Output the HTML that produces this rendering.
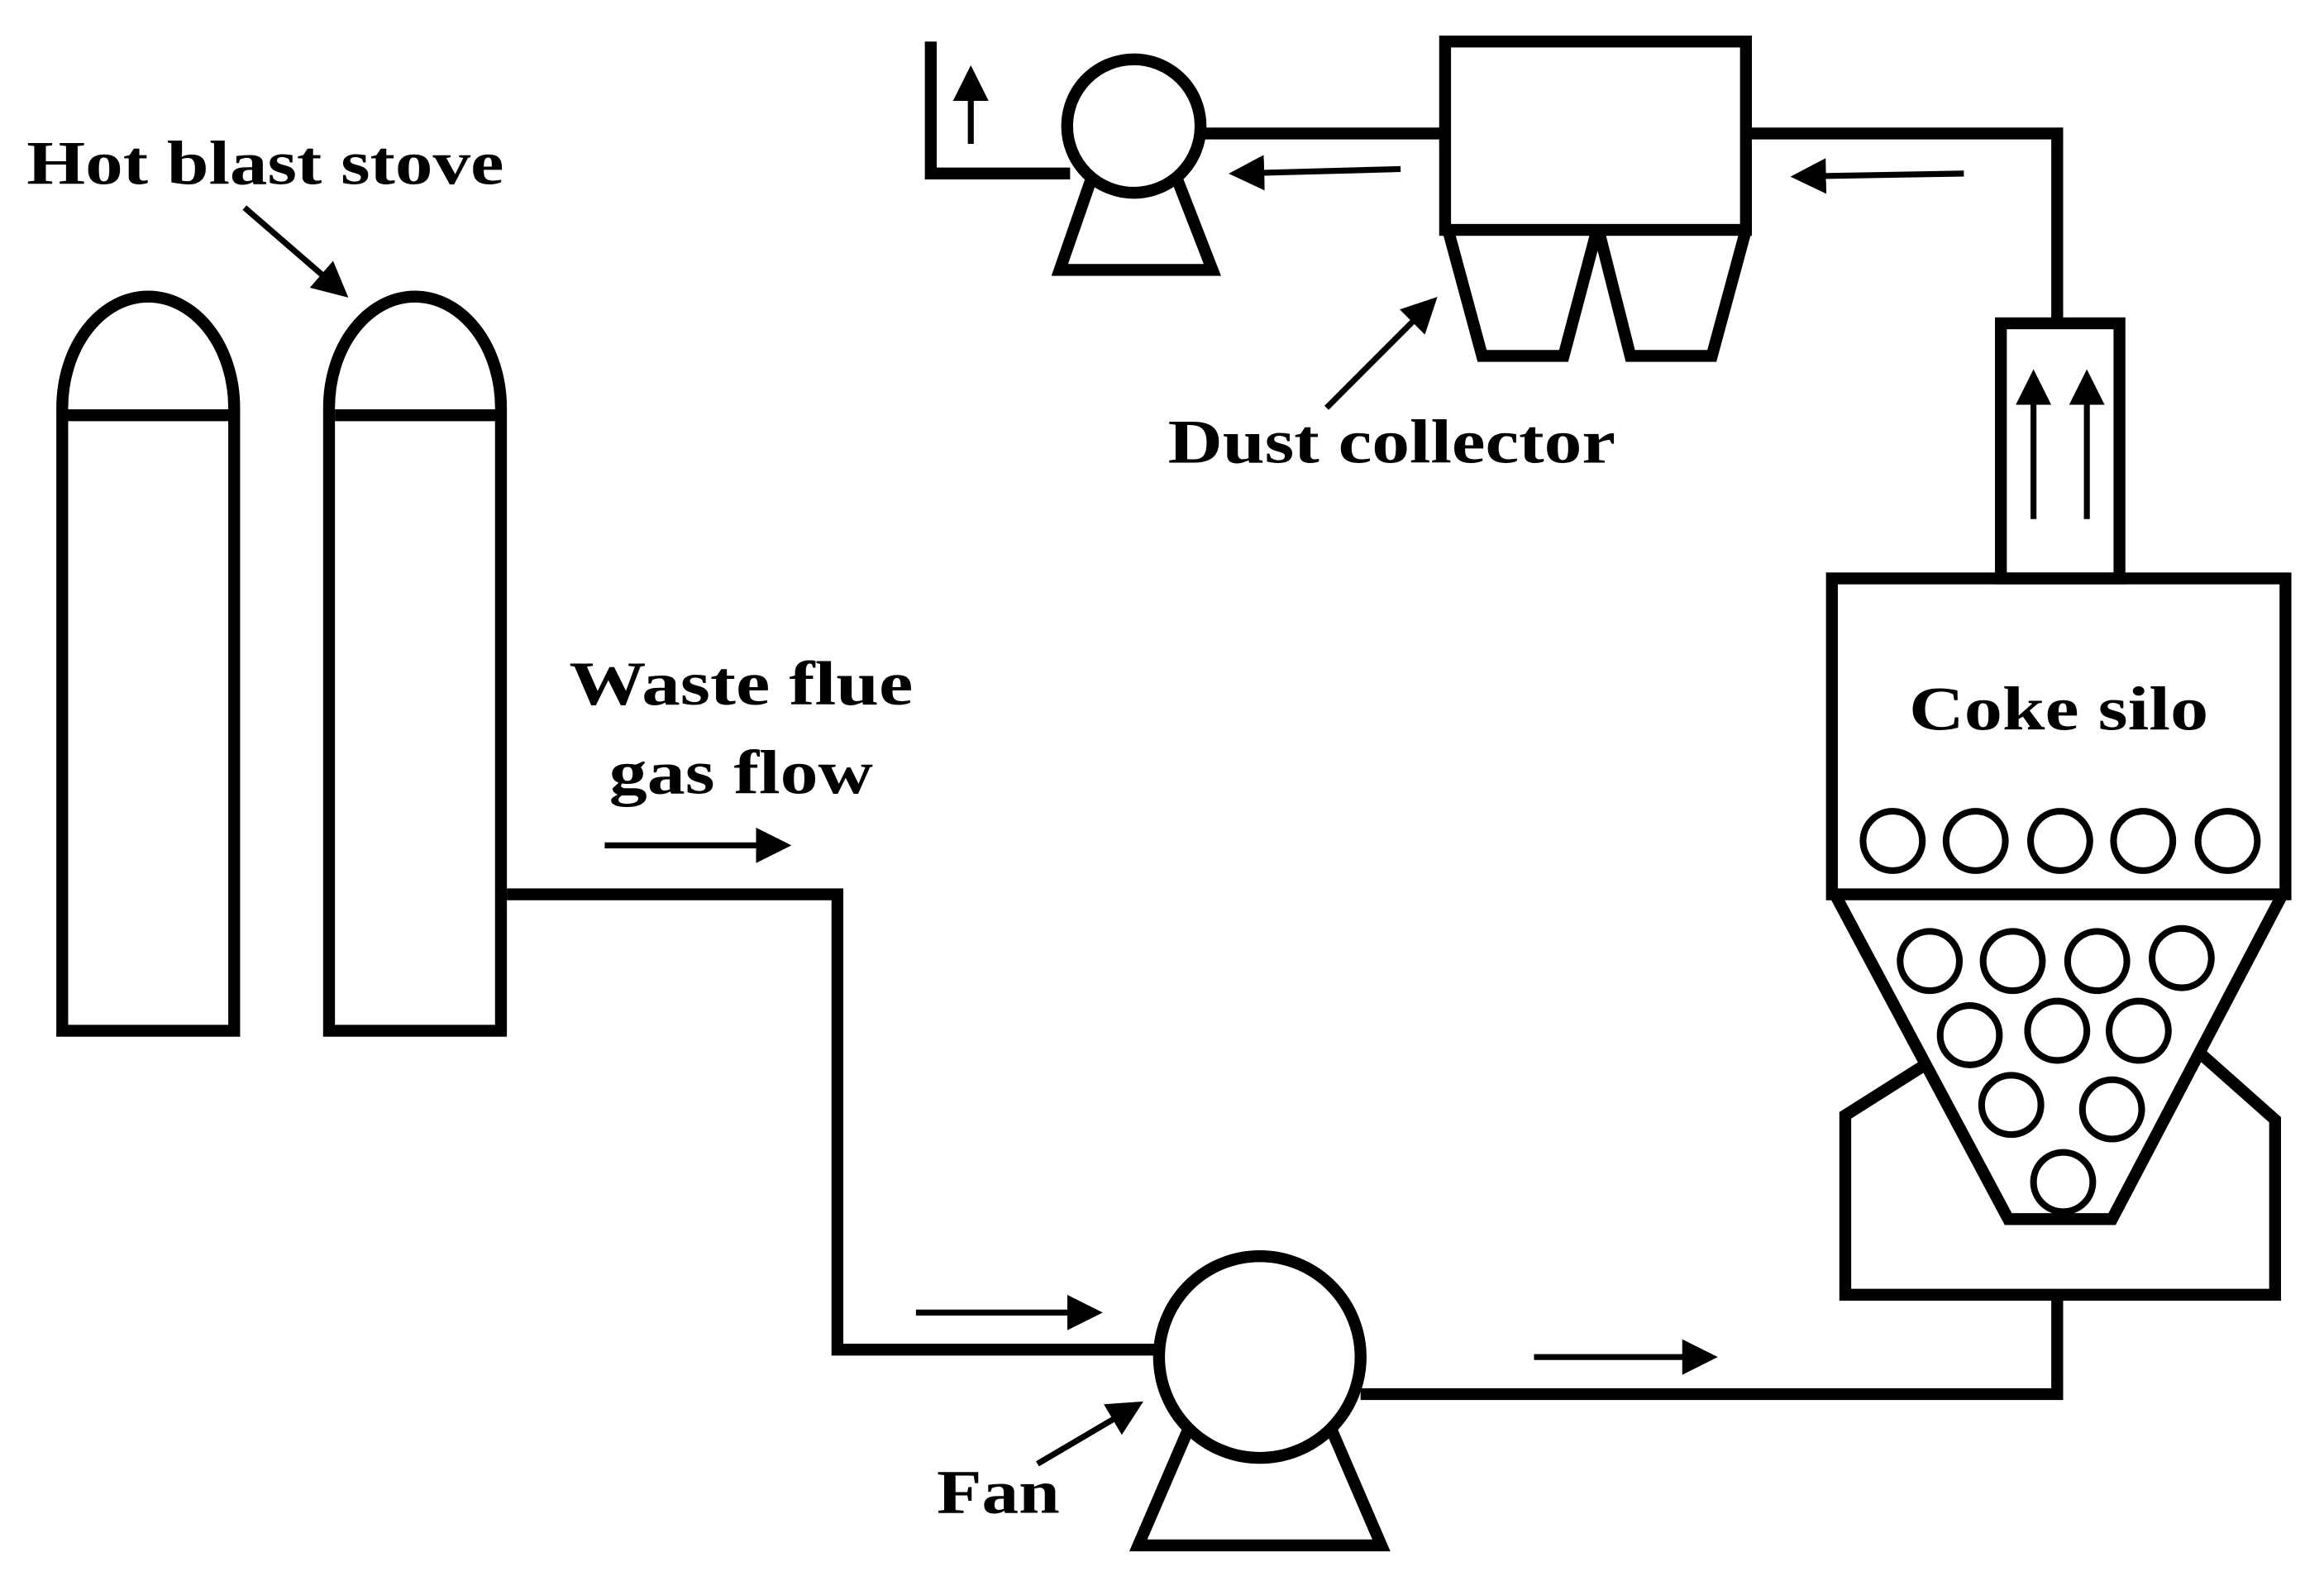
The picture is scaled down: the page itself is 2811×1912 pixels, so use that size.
<!DOCTYPE html>
<html><head><meta charset="utf-8"><style>html,body{margin:0;padding:0;background:#fff}svg{display:block}</style></head>
<body>
<svg width="2811" height="1912" viewBox="0 0 1568 1066" preserveAspectRatio="none" xmlns="http://www.w3.org/2000/svg">
<defs><marker id="a" markerWidth="6" markerHeight="6" refX="5" refY="3" orient="auto" markerUnits="strokeWidth"><path d="M0,0 L6,3 L0,6 z" fill="#000"/></marker></defs>
<g fill="none" stroke="#000" stroke-width="8" stroke-linejoin="miter" stroke-miterlimit="4">
<path d="M42,695 V275 A58,75 0 0 1 158,275 V695 Z"/>
<line x1="46" y1="280" x2="156" y2="280"/>
<path d="M222,695 V275 A58,75 0 0 1 338,275 V695 Z"/>
<line x1="226" y1="280" x2="336" y2="280"/>
<path d="M342,603 H565 V910 H782"/>
<path d="M812,940 L768,1042 H932 L888,940"/>
<circle cx="850" cy="915" r="68" fill="#fff"/>
<path d="M918,940 H1388 V873"/>
<rect x="1236" y="390" width="306" height="213"/>
<path d="M1238,603 L1355,822 H1425 L1540,603"/>
<path d="M1302,716 L1245,752 V873 H1535 V755 L1482,708"/>
<rect x="1350" y="218" width="80" height="172"/>
<path d="M1388,218 V90 H1178"/>
<rect x="975" y="28" width="203" height="127"/>
<path d="M977,155 L1000,240 H1055 L1077,157"/>
<path d="M1079,157 L1100,240 H1155 L1178,155"/>
<path d="M975,90 H810"/>
<path d="M740,110 L715,182 H818 L790,110"/>
<circle cx="765" cy="85" r="45" fill="#fff"/>
<path d="M628,28 V117 H722"/>
</g>
<g fill="none" stroke="#000" stroke-width="4.5">
<circle cx="1277" cy="567" r="20"/><circle cx="1333" cy="567" r="20"/><circle cx="1390" cy="567" r="20"/><circle cx="1446" cy="567" r="20"/><circle cx="1503" cy="567" r="20"/>
<circle cx="1302" cy="648" r="20"/><circle cx="1358" cy="648" r="20"/><circle cx="1415" cy="648" r="20"/><circle cx="1472" cy="646" r="20"/>
<circle cx="1329" cy="698" r="20"/><circle cx="1388" cy="695" r="20"/><circle cx="1443" cy="695" r="20"/>
<circle cx="1357" cy="745" r="20"/><circle cx="1425" cy="748" r="20"/>
<circle cx="1392" cy="797" r="20"/>
</g>
<g stroke="#000" stroke-width="4" fill="none" marker-end="url(#a)">
<line x1="165" y1="140" x2="232" y2="198"/>
<line x1="408" y1="570" x2="530" y2="570"/>
<line x1="618" y1="885" x2="740" y2="885"/>
<line x1="1035" y1="915" x2="1155" y2="915"/>
<line x1="700" y1="987" x2="768" y2="947"/>
<line x1="1372" y1="350" x2="1372" y2="253"/>
<line x1="1408" y1="350" x2="1408" y2="253"/>
<line x1="1325" y1="117" x2="1212" y2="119"/>
<line x1="945" y1="114" x2="833" y2="117"/>
<line x1="895" y1="275" x2="967" y2="203"/>
<line x1="655" y1="97" x2="655" y2="48"/>
</g>
<g font-family="'Liberation Serif', serif" font-weight="bold" font-size="42" fill="#000">
<text x="18" y="124" textLength="322" lengthAdjust="spacingAndGlyphs">Hot blast stove</text>
<text x="384" y="475" textLength="232" lengthAdjust="spacingAndGlyphs">Waste  flue</text>
<text x="411" y="535" textLength="178" lengthAdjust="spacingAndGlyphs">gas flow</text>
<text x="632" y="1020" textLength="83" lengthAdjust="spacingAndGlyphs">Fan</text>
<text x="788" y="312" textLength="302" lengthAdjust="spacingAndGlyphs">Dust collector</text>
<text x="1288" y="492" textLength="202" lengthAdjust="spacingAndGlyphs">Coke silo</text>
</g>
</svg>
</body></html>
